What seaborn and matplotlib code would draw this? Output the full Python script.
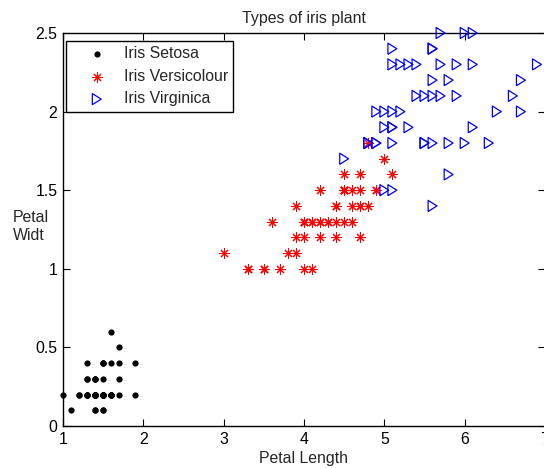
import matplotlib
matplotlib.use("Agg")
import matplotlib.pyplot as plt
import seaborn as sns
import pandas as pd

setosa_length = [1.4, 1.4, 1.3, 1.5, 1.4, 1.7, 1.4, 1.5, 1.4, 1.5,
                 1.5, 1.6, 1.4, 1.1, 1.2, 1.5, 1.3, 1.4, 1.7, 1.5,
                 1.7, 1.5, 1.0, 1.7, 1.9, 1.6, 1.6, 1.5, 1.4, 1.6,
                 1.6, 1.5, 1.5, 1.4, 1.5, 1.2, 1.3, 1.4, 1.3, 1.5,
                 1.3, 1.3, 1.3, 1.6, 1.9, 1.4, 1.6, 1.4, 1.5, 1.4]
setosa_width = [0.2, 0.2, 0.2, 0.2, 0.2, 0.4, 0.3, 0.2, 0.2, 0.1,
                0.2, 0.2, 0.1, 0.1, 0.2, 0.4, 0.4, 0.3, 0.3, 0.3,
                0.2, 0.4, 0.2, 0.5, 0.2, 0.2, 0.4, 0.2, 0.2, 0.2,
                0.2, 0.4, 0.1, 0.2, 0.2, 0.2, 0.2, 0.1, 0.2, 0.2,
                0.3, 0.3, 0.2, 0.6, 0.4, 0.3, 0.2, 0.2, 0.2, 0.2]
versicolour_length = [4.7, 4.5, 4.9, 4.0, 4.6, 4.5, 4.7, 3.3, 4.6, 3.9,
                      3.5, 4.2, 4.0, 4.7, 3.6, 4.4, 4.5, 4.1, 4.5, 3.9,
                      4.8, 4.0, 4.9, 4.7, 4.3, 4.4, 4.8, 5.0, 4.5, 3.5,
                      3.8, 3.7, 3.9, 5.1, 4.5, 4.5, 4.7, 4.4, 4.1, 4.0,
                      4.4, 4.6, 4.0, 3.3, 4.2, 4.2, 4.2, 4.3, 3.0, 4.1]
versicolour_width = [1.4, 1.5, 1.5, 1.3, 1.5, 1.3, 1.6, 1.0, 1.3, 1.4,
                     1.0, 1.5, 1.0, 1.4, 1.3, 1.4, 1.5, 1.0, 1.5, 1.1,
                     1.8, 1.3, 1.5, 1.2, 1.3, 1.4, 1.4, 1.7, 1.5, 1.0,
                     1.1, 1.0, 1.2, 1.6, 1.5, 1.6, 1.5, 1.3, 1.3, 1.3,
                     1.2, 1.4, 1.2, 1.0, 1.3, 1.2, 1.3, 1.3, 1.1, 1.3]
virginica_length = [6.0, 5.1, 5.9, 5.6, 5.8, 6.6, 4.5, 6.3, 5.8, 6.1,
                    5.1, 5.3, 5.5, 5.0, 5.1, 5.3, 5.5, 6.7, 6.9, 5.0,
                    5.7, 4.9, 6.7, 4.9, 5.7, 6.0, 4.8, 4.9, 5.6, 5.8,
                    6.1, 6.4, 5.6, 5.1, 5.6, 6.1, 5.6, 5.5, 4.8, 5.4,
                    5.6, 5.1, 5.1, 5.9, 5.7, 5.2, 5.0, 5.2, 5.4, 5.1]
virginica_width = [2.5, 1.9, 2.1, 1.8, 2.2, 2.1, 1.7, 1.8, 1.8, 2.5,
                   2.0, 1.9, 2.1, 2.0, 2.4, 2.3, 1.8, 2.2, 2.3, 1.5,
                   2.3, 2.0, 2.0, 1.8, 2.1, 1.8, 1.8, 1.8, 2.1, 1.6,
                   1.9, 2.0, 2.2, 1.5, 1.4, 2.3, 2.4, 1.8, 1.8, 2.1,
                   2.4, 2.3, 1.9, 2.3, 2.5, 2.3, 1.9, 2.0, 2.3, 1.8]

species_labels = ["Iris Setosa", "Iris Versicolour", "Iris Virginica"]
x_ticks = [1, 2, 3, 4, 5, 6, 7]
x_tick_labels = ["1", "2", "3", "4", "5", "6", "7"]
y_ticks = [0, 0.5, 1, 1.5, 2, 2.5]
y_tick_labels = ["0", "0.5", "1", "1.5", "2", "2.5"]

sns.set_style("ticks")
plt.rcParams["font.family"] = ["Liberation Sans", "DejaVu Sans"]
plt.rcParams["xtick.direction"] = "in"
plt.rcParams["ytick.direction"] = "in"

FS = 11.4
fig = plt.figure(figsize=(5.44, 4.69), dpi=100)
ax = fig.add_axes([63 / 544, 43 / 469, 482 / 544, 393 / 469])

df_s = pd.DataFrame({"len": setosa_length, "wid": setosa_width})
df_v = pd.DataFrame({"len": versicolour_length, "wid": versicolour_width})
df_g = pd.DataFrame({"len": virginica_length, "wid": virginica_width})

tri = [(-0.8, -1.0), (0.8, 0.0), (-0.8, 1.0), (-0.8, -1.0)]

sns.scatterplot(data=df_s, x="len", y="wid", ax=ax, marker="o", color="black",
                s=20, linewidth=0, label=species_labels[0], zorder=3, clip_on=False)
sns.scatterplot(data=df_v, x="len", y="wid", ax=ax, marker=(8, 2, 0), color="red",
                s=45, linewidth=0.75, label=species_labels[1], zorder=3, clip_on=False)
sns.scatterplot(data=df_g, x="len", y="wid", ax=ax, marker=tri, facecolor="none",
                edgecolor="blue", s=64, linewidth=0.9, label=species_labels[2],
                zorder=3, clip_on=False)

ax.set_xlim(1, 7)
ax.set_ylim(0, 2.5)
ax.set_xticks(x_ticks)
ax.set_xticklabels(x_tick_labels, fontsize=FS)
ax.set_yticks(y_ticks)
ax.set_yticklabels(y_tick_labels, fontsize=FS)
ax.tick_params(axis="both", which="both", direction="in", length=5, width=0.8,
               top=True, right=True, colors="black", pad=4)
for sp in ax.spines.values():
    sp.set_visible(True)
    sp.set_color("black")
    sp.set_linewidth(1.0)

ax.set_title("Types of iris plant", fontsize=FS, pad=7)
ax.set_xlabel("Petal Length", fontsize=FS, labelpad=3)
ax.set_ylabel("Petal\nWidt", fontsize=FS, rotation=0, ha="left", va="center",
              linespacing=1.3)
ax.yaxis.set_label_coords(-0.1037, 0.508)

leg = ax.legend(loc="upper left", bbox_to_anchor=(0.006, 0.98), borderaxespad=0,
                fontsize=FS, frameon=True, fancybox=False, framealpha=1,
                edgecolor="black", handlelength=3.2, handletextpad=0.1,
                labelspacing=0.47, borderpad=0.35)
leg.get_frame().set_linewidth(1.0)

fig.savefig("out.png", dpi=100)
